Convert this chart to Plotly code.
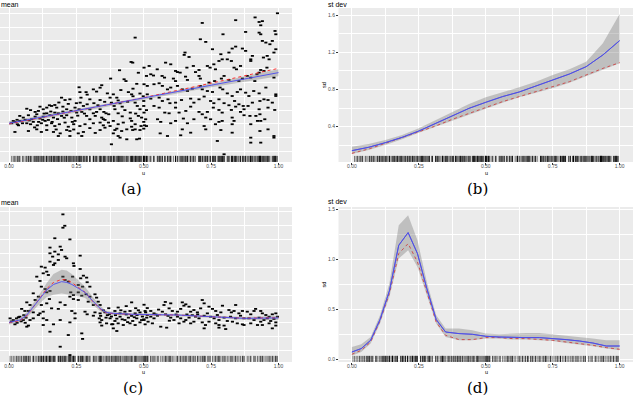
import plotly.graph_objects as go

# ---------------- data ----------------
# panel (a): scatter of mean vs u
a_pts = [
(.468,9.24),(.453,7.48),(.459,7.43),(.41,6.88),(.48,6.7),(.51,6.47),(.377,6.28),(.427,6.23),(.434,6.1),(.474,5.9),
(.344,5.8),(.338,5.62),(.313,5.5),(.325,5.34),(.286,5.3),(.29,5.12),(.263,5.3),(.267,4.9),(.365,5.21),(.387,5.14),
(.4,4.9),(.405,4.7),(.443,5.3),(.455,5.14),(.46,5.0),(.486,5.2),(.498,5.0),(.5,4.66),(.195,4.9),(.208,4.73),
(.226,4.78),(.375,4.9),(.38,4.54),(.338,4.73),(.3,4.78),(.315,4.5),(.29,4.42),(.264,4.54),(.276,4.3),(.412,4.49),
(.42,4.25),(.468,4.54),(.476,4.3),(.486,4.06),(.5,4.3),(.51,4.0),(.158,4.3),(.17,4.37),(.177,4.18),(.127,4.06),
(.14,4.18),(.15,4.35),(.115,4.25),(.109,3.94),(.066,4.1),(.08,4.0),(.097,3.87),(.103,3.7),(.2,4.25),(.214,4.06),
(.245,4.18),(.26,4.06),(.251,3.82),(.27,3.87),(.338,4.06),(.352,3.87),(.36,3.77),(.313,3.77),(.325,3.87),(.32,3.58),
(.393,4.06),(.405,3.77),(.43,4.0),(.45,3.82),(.17,3.82),(.183,3.77),(.195,3.58),(.14,3.77),(.152,3.63),(.165,3.46),
(.04,3.58),(.053,3.46),(.072,3.63),(.084,3.34),(.097,3.53),(.115,3.39),(.127,3.53),(.134,3.22),(.146,3.29),(.214,3.63),
(.233,3.46),(.245,3.22),(.288,3.58),(.3,3.34),(.344,3.46),(.356,3.29),(.369,3.1),(.387,3.22),(.405,2.98),(.424,3.1),
(.455,3.22),(.468,2.98),(.48,3.58),(.492,3.46),(.5,3.15),(.51,2.85),(.01,3.05),(.022,3.15),(.031,2.98),(.016,3.22),
(.04,3.22),(.05,3.05),(.066,3.05),(.08,2.98),(.09,3.15),(.105,2.9),(.12,3.05),(.14,2.9),(.158,3.05),(.17,2.85),
(.187,2.98),(.208,3.1),(.22,2.8),(.24,2.98),(.263,2.85),(.282,2.98),(.313,3.05),(.338,3.1),(.35,2.9),(.375,2.85),
(.393,2.56),(.338,2.56),(.356,2.73),(.4,2.66),(.418,2.49),(.437,2.61),(.455,2.8),(.468,2.61),(.486,2.56),(.5,2.66),
(.022,2.42),(.072,2.49),(.103,2.61),(.12,2.42),(.14,2.56),(.165,2.42),(.19,2.32),(.214,2.56),(.226,2.49),(.257,2.32),
(.183,2.13),(.226,2.13),(.276,2.42),(.27,2.13),(.387,2.32),(.405,2.13),(.459,2.56),(.474,1.89),(.412,2.01),(.437,1.89),
(.38,1.53),(.484,1.94),(.03,3.3),(.06,3.3),(.11,3.15),(.13,3.75),(.155,3.9),(.18,3.35),(.2,3.9),(.23,3.95),
(.25,4.5),(.28,3.75),(.3,4.05),(.33,4.35),(.35,3.35),(.37,3.7),(.39,4.3),(.42,3.55),(.44,4.6),(.45,3.4),
(.47,3.75),(.49,2.85),(.26,5.65),(.22,4.45),(.185,4.55),(.3,2.7),(.32,2.35),(.24,2.6),(.355,4.6),(.46,5.55),
(.415,5.45),(.035,2.9),(.075,3.25),(.095,2.75),(.125,3.3),(.16,3.15),(.175,2.6),(.205,3.45),(.235,3.15),(.255,3.6),
(.996,11.0),(.913,10.7),(.928,10.37),(.94,10.43),(.934,10.13),(.841,10.5),(.717,10.3),(.878,9.65),(.928,9.6),(.934,9.48),
(.987,9.72),(.99,9.48),(.794,9.48),(.71,9.12),(.73,8.93),(.94,9.0),(.953,8.88),(.977,9.0),(.968,8.76),(.841,8.59),
(.653,8.16),(.65,7.99),(.755,8.4),(.828,8.45),(.866,8.45),(.878,8.28),(.99,8.4),(.983,8.16),(.786,8.04),(.816,8.16),
(.668,7.84),(.903,7.92),(.897,7.67),(.958,7.92),(.944,7.8),(.965,7.67),(.501,7.07),(.52,7.19),(.55,6.95),(.581,7.43),
(.6,7.31),(.618,6.83),(.625,6.75),(.635,6.71),(.66,7.07),(.684,7.19),(.692,6.75),(.705,6.9),(.736,7.19),(.746,7.07),
(.76,7.31),(.766,6.95),(.779,7.55),(.791,7.67),(.81,7.67),(.825,7.55),(.835,7.07),(.844,6.95),(.859,7.19),(.897,7.55),
(.928,6.71),(.934,6.9),(.946,6.83),(.957,7.07),(.526,6.59),(.536,6.5),(.568,6.47),(.577,6.35),(.61,6.28),(.618,6.1),
(.655,6.42),(.662,6.18),(.705,6.47),(.71,6.28),(.742,5.99),(.763,6.1),(.788,6.28),(.798,6.47),(.816,6.18),(.853,6.1),
(.866,6.28),(.884,6.47),(.897,6.35),(.912,6.1),(.92,6.59),(.983,6.35),(.501,5.87),(.513,5.75),(.538,5.87),(.557,5.94),
(.569,5.75),(.588,5.5),(.6,5.63),(.625,5.75),(.643,5.5),(.662,5.38),(.68,5.55),(.71,5.75),(.717,5.5),(.736,5.38),
(.755,5.31),(.783,5.63),(.793,5.5),(.81,5.21),(.828,5.02),(.847,5.31),(.859,5.5),(.878,5.26),(.89,5.02),(.908,5.38),
(.928,5.21),(.953,5.63),(.99,5.14),(.99,5.02),(.513,5.14),(.526,4.83),(.557,4.9),(.569,4.66),(.59,4.78),(.597,4.5),
(.618,4.54),(.64,4.73),(.674,4.83),(.686,4.54),(.705,4.78),(.724,4.98),(.748,4.66),(.76,4.5),(.779,4.78),(.798,4.5),
(.816,4.35),(.837,4.66),(.853,4.42),(.869,4.3),(.887,4.3),(.903,4.54),(.931,4.66),(.946,4.78),(.961,4.73),(.977,4.54),
(.538,4.3),(.557,4.18),(.578,3.82),(.594,3.77),(.618,4.18),(.631,3.82),(.656,3.94),(.674,4.25),(.705,3.87),(.717,3.7),
(.736,3.87),(.758,4.18),(.779,4.01),(.791,3.82),(.825,4.01),(.841,4.25),(.859,3.87),(.872,4.06),(.928,4.06),(.931,3.7),
(.961,4.18),(.986,4.01),(.501,3.82),(.507,3.34),(.551,3.34),(.563,3.15),(.6,3.05),(.618,3.22),(.647,3.39),(.662,3.05),
(.686,3.34),(.73,3.46),(.748,3.34),(.779,3.15),(.791,3.22),(.828,3.46),(.835,3.22),(.872,3.63),(.894,3.58),(.916,3.58),
(.922,3.22),(.949,3.34),(.503,2.9),(.643,2.61),(.674,2.37),(.724,2.85),(.73,2.61),(.766,2.98),(.786,2.56),(.828,2.98),
(.897,2.98),(.934,3.22),(.561,2.32),(.588,2.13),(.637,2.18),(.828,2.37),(.897,2.01),(.931,2.49),(.961,2.61),(.983,2.13),
(.773,1.77),(.897,1.65),(.934,1.65),(.983,2.01),(.798,0.81),
]
a_u = [p[0] for p in a_pts]
a_mean = [p[1] for p in a_pts]

# panel (a) fitted curves
a_fit_u = [0.0, 0.25, 0.5, 0.75, 1.0]
a_fit = [3.05, 3.95, 4.85, 5.80, 6.71]
a_true = [3.00, 3.95, 4.90, 5.95, 7.02]
a_hi = [3.20, 4.05, 4.95, 5.95, 6.95]
a_lo = [2.90, 3.85, 4.75, 5.65, 6.45]

# panel (b): st dev curves
b_u = [0, .0625, .125, .1875, .25, .3125, .375, .4375, .5, .5625, .625, .6875, .75, .8125, .875, .9375, 1.0]
b_fit = [0.142, 0.178, 0.228, 0.285, 0.353, 0.436, 0.515, 0.597, 0.662, 0.723, 0.773, 0.837, 0.902, 0.966, 1.045, 1.171, 1.325]
b_true = [0.113, 0.160, 0.221, 0.282, 0.346, 0.407, 0.479, 0.543, 0.608, 0.669, 0.723, 0.776, 0.823, 0.884, 0.956, 1.027, 1.088]
b_hi = [0.185, 0.214, 0.257, 0.310, 0.382, 0.472, 0.561, 0.644, 0.715, 0.766, 0.823, 0.884, 0.956, 1.017, 1.099, 1.296, 1.611]
b_lo = [0.106, 0.149, 0.203, 0.264, 0.335, 0.400, 0.465, 0.533, 0.597, 0.658, 0.715, 0.766, 0.812, 0.873, 0.945, 1.017, 1.081]

# panel (c): scatter of mean vs u
c_pts = [
(.2,10.8),(.207,9.98),(.2,9.84),(.226,9.0),(.17,9.08),(.152,8.41),(.19,8.48),(.195,8.24),(.17,8.12),(.183,7.92),
(.152,8.0),(.162,7.76),(.208,7.76),(.214,7.64),(.264,7.83),(.183,7.52),(.17,7.28),(.152,7.4),(.165,7.16),(.239,7.28),
(.241,7.09),(.12,7.04),(.134,6.97),(.127,6.56),(.14,6.68),(.146,6.44),(.264,6.87),(.276,6.39),(.266,6.2),(.288,6.25),
(.236,6.32),(.103,6.32),(.115,6.01),(.2,6.32),(.208,6.08),(.22,5.96),(.257,5.72),(.273,5.6),(.29,5.92),(.3,5.6),
(.12,5.6),(.134,5.43),(.14,5.19),(.152,5.29),(.09,5.12),(.229,5.19),(.239,5.0),(.257,5.19),(.27,4.95),(.286,5.05),
(.3,4.88),(.319,5.05),(.325,4.81),(.109,4.88),(.097,4.64),(.15,4.71),(.226,4.88),(.239,4.71),(.066,4.47),(.078,4.28),
(.338,4.28),(.331,4.52),(.12,4.28),(.14,4.4),(.19,4.47),(.208,4.28),(.257,4.64),(.294,4.52),(.313,4.28),(.158,4.04),
(.183,4.0),(.047,4.0),(.059,3.85),(.09,3.75),(.072,3.85),(.115,3.68),(.127,3.8),(.233,3.85),(.245,3.68),(.282,3.8),
(.29,3.61),(.319,3.75),(.338,3.68),(.356,3.75),(.372,3.61),(.393,3.85),(.412,3.68),(.43,3.8),(.455,4.47),(.449,3.85),
(.468,3.68),(.486,3.75),(.505,3.85),(.004,3.32),(.016,3.2),(.028,3.32),(.04,3.44),(.053,3.2),(.063,3.37),(.078,3.2),
(.09,3.32),(.109,3.56),(.127,3.32),(.313,3.51),(.335,3.32),(.344,3.2),(.36,3.37),(.375,3.32),(.393,3.13),(.412,3.44),
(.43,3.2),(.443,3.37),(.459,3.13),(.474,3.32),(.492,3.2),(.511,3.37),(.362,2.96),(.381,2.89),(.405,2.96),(.424,2.84),
(.449,2.96),(.468,2.84),(.486,3.03),(.505,2.89),(.022,2.89),(.072,2.8),(.127,2.84),(.14,3.2),(.19,3.2),(.338,3.03),
(.226,3.03),(.245,3.32),(.344,2.8),(.387,2.6),(.4,2.41),(.066,2.72),(.152,2.36),(.165,2.89),(.273,1.84),(.22,2.12),
(.19,1.28),(.226,0.68),(.27,2.24),(.34,3.5),(.35,3.9),(.365,3.55),(.38,3.45),(.395,3.55),(.4,3.3),(.415,3.9),
(.42,3.25),(.435,3.6),(.44,3.05),(.455,3.5),(.465,3.4),(.475,3.55),(.48,3.9),(.495,3.45),(.5,3.25),(.37,4.05),
(.405,4.1),(.435,4.2),(.47,4.05),(.385,2.9),(.01,3.1),(.03,3.0),(.035,3.4),(.045,3.1),(.055,3.55),(.06,3.0),
(.501,4.3),(.513,4.06),(.526,3.85),(.538,3.68),(.507,3.75),(.513,3.56),(.526,3.44),(.538,3.32),(.551,3.51),(.501,3.2),
(.516,3.08),(.532,2.96),(.563,2.72),(.585,2.65),(.575,4.28),(.594,4.04),(.606,3.85),(.569,3.8),(.581,3.61),(.6,3.37),
(.612,3.2),(.625,3.8),(.637,4.0),(.649,4.23),(.643,4.47),(.656,4.33),(.668,4.16),(.674,3.8),(.625,3.44),(.637,3.32),
(.656,3.2),(.668,3.37),(.631,2.96),(.649,3.08),(.674,2.96),(.686,3.92),(.699,3.75),(.711,4.04),(.717,4.64),(.724,4.4),
(.692,3.44),(.705,3.32),(.724,3.51),(.686,3.08),(.717,3.03),(.729,2.84),(.724,2.6),(.742,4.16),(.755,4.0),(.767,3.85),
(.736,3.68),(.748,3.44),(.761,3.32),(.773,3.56),(.786,3.75),(.779,3.2),(.798,3.37),(.81,3.13),(.742,3.08),(.767,2.96),
(.779,2.84),(.798,2.8),(.804,2.55),(.792,4.23),(.816,3.92),(.825,3.75),(.841,4.28),(.835,3.85),(.853,3.68),(.866,3.85),
(.822,3.44),(.841,3.32),(.859,3.51),(.872,3.32),(.829,3.08),(.847,2.96),(.866,2.89),(.884,3.8),(.897,3.61),(.909,3.85),
(.89,3.32),(.909,3.2),(.928,3.37),(.915,4.0),(.934,3.85),(.897,2.96),(.922,2.84),(.934,3.08),(.94,3.68),(.953,3.56),
(.965,3.44),(.977,3.61),(.99,3.68),(.946,3.2),(.958,3.32),(.971,3.13),(.983,3.27),(.996,3.44),(.94,2.84),(.965,2.96),
(.99,3.03),(.977,2.6),(.99,2.8),(.779,2.65),(.872,2.84),(.545,3.6),(.555,3.95),(.59,3.5),(.595,3.15),(.62,3.6),
(.66,3.6),(.68,3.55),(.7,3.6),(.58,4.5),(.6,4.4),
]
c_u = [p[0] for p in c_pts]
c_mean = [p[1] for p in c_pts]

# panel (c) fitted curves
c_fit_u = [0, .04, .066, .09, .115, .14, .165, .195, .214, .233, .257, .282, .307, .338, .36, .387, .46, .506, .625, .75, .872, 1.0]
c_fit = [3.03, 3.2, 3.56, 4.16, 4.76, 5.36, 5.76, 5.96, 5.91, 5.76, 5.48, 5.19, 4.64, 4.04, 3.75, 3.68, 3.61, 3.61, 3.56, 3.44, 3.32, 3.35]
c_true = [3.0, 3.15, 3.5, 4.15, 4.8, 5.45, 5.9, 6.12, 6.08, 5.9, 5.55, 5.2, 4.62, 4.0, 3.72, 3.66, 3.6, 3.6, 3.56, 3.44, 3.33, 3.37]
c_hi = [3.18, 3.35, 3.76, 4.41, 5.11, 5.86, 6.51, 6.81, 6.76, 6.51, 6.03, 5.59, 4.94, 4.24, 3.87, 3.78, 3.69, 3.69, 3.64, 3.52, 3.42, 3.5]
c_lo = [2.88, 3.05, 3.36, 3.91, 4.41, 4.86, 5.01, 5.11, 5.06, 5.01, 4.93, 4.79, 4.34, 3.84, 3.63, 3.58, 3.53, 3.53, 3.48, 3.36, 3.22, 3.2]

# panel (d): st dev curves
d_u = [0, .035, .07, .105, .14, .175, .21, .245, .28, .315, .35, .4, .45, .5, .55, .6, .65, .7, .75, .8, .85, .9, .95, 1.0]
d_fit = [0.073, 0.107, 0.19, 0.397, 0.683, 1.14, 1.267, 1.057, 0.707, 0.397, 0.273, 0.257, 0.25, 0.23, 0.223, 0.217, 0.217, 0.217, 0.21, 0.197, 0.183, 0.163, 0.133, 0.133]
d_true = [0.05, 0.09, 0.173, 0.383, 0.657, 1.057, 1.157, 0.973, 0.673, 0.373, 0.24, 0.197, 0.197, 0.217, 0.217, 0.207, 0.207, 0.2, 0.19, 0.173, 0.157, 0.14, 0.117, 0.1]
d_hi = [0.123, 0.15, 0.223, 0.44, 0.757, 1.34, 1.44, 1.19, 0.773, 0.44, 0.307, 0.307, 0.29, 0.257, 0.25, 0.257, 0.263, 0.263, 0.25, 0.24, 0.223, 0.207, 0.19, 0.19]
d_lo = [0.035, 0.073, 0.157, 0.357, 0.623, 1.007, 1.09, 0.923, 0.64, 0.357, 0.223, 0.19, 0.19, 0.207, 0.207, 0.197, 0.197, 0.19, 0.183, 0.163, 0.15, 0.13, 0.107, 0.09]

x_ticks = [0, 0.25, 0.5, 0.75, 1.0]
x_ticktext = ["0.00", "0.25", "0.50", "0.75", "1.00"]
b_ticks = [0.4, 0.8, 1.2, 1.6]
b_ticktext = ["0.4", "0.8", "1.2", "1.6"]
d_ticks = [0.0, 0.5, 1.0, 1.5]
d_ticktext = ["0.0", "0.5", "1.0", "1.5"]
captions = ["(a)", "(b)", "(c)", "(d)"]

# ---------------- figure ----------------
W, H = 639, 413
BLUE = "#4a4af0"
RED = "#ff2020"
BAND = "rgba(120,120,120,0.38)"
fig = go.Figure()


def px_x(p):
    return p / W


def px_y(p):
    return 1 - p / H


def add_band(u, lo, hi, xa, ya):
    fig.add_trace(go.Scatter(x=u, y=lo, mode="lines", line=dict(width=0), xaxis=xa, yaxis=ya,
                             hoverinfo="skip", showlegend=False))
    fig.add_trace(go.Scatter(x=u, y=hi, mode="lines", line=dict(width=0), fill="tonexty",
                             fillcolor=BAND, xaxis=xa, yaxis=ya, hoverinfo="skip", showlegend=False))


def add_lines(u, true, fit, xa, ya):
    fig.add_trace(go.Scatter(x=u, y=true, mode="lines", line=dict(color=RED, width=0.9, dash="dot"),
                             xaxis=xa, yaxis=ya, showlegend=False))
    fig.add_trace(go.Scatter(x=u, y=fit, mode="lines", line=dict(color=BLUE, width=0.9),
                             xaxis=xa, yaxis=ya, showlegend=False))


def add_rug(u, xa, ya):
    fig.add_trace(go.Scatter(x=u, y=[0.02] * len(u), mode="markers", xaxis=xa, yaxis=ya,
                             marker=dict(symbol="line-ns", size=4.3, line=dict(width=0.6, color="rgba(0,0,0,0.85)")),
                             hoverinfo="skip", showlegend=False))


def add_points(u, v, xa, ya):
    fig.add_trace(go.Scatter(x=u, y=v, mode="markers", xaxis=xa, yaxis=ya,
                             marker=dict(symbol="line-ew", size=2.2, line=dict(width=1.8, color="black")),
                             showlegend=False))


# (a)
add_points(a_u, a_mean, "x", "y")
add_band(a_fit_u, a_lo, a_hi, "x", "y")
add_lines(a_fit_u, a_true, a_fit, "x", "y")
add_rug(a_u, "x", "y5")
# (b)
add_lines(b_u, b_true, b_fit, "x2", "y2")
add_band(b_u, b_lo, b_hi, "x2", "y2")
fig.add_trace(go.Scatter(x=b_u, y=b_fit, mode="lines", line=dict(color=BLUE, width=0.9),
                         xaxis="x2", yaxis="y2", showlegend=False))
add_rug(a_u, "x2", "y6")
# (c)
add_points(c_u, c_mean, "x3", "y3")
add_band(c_fit_u, c_lo, c_hi, "x3", "y3")
add_lines(c_fit_u, c_true, c_fit, "x3", "y3")
add_rug(c_u, "x3", "y7")
# (d)
add_lines(d_u, d_true, d_fit, "x4", "y4")
add_band(d_u, d_lo, d_hi, "x4", "y4")
fig.add_trace(go.Scatter(x=d_u, y=d_fit, mode="lines", line=dict(color=BLUE, width=0.9),
                         xaxis="x4", yaxis="y4", showlegend=False))
add_rug(c_u, "x4", "y8")

TICKFONT = dict(family="Liberation Sans", size=5, color="#4d4d4d")
TITLEFONT = dict(family="Liberation Sans", size=5.5, color="black")

left_dom = [px_x(0), px_x(292)]
right_dom = [px_x(338.5), px_x(633)]
top_dom = [px_y(162), px_y(8)]
bot_dom = [px_y(362), px_y(207)]


def xaxis(dom, rng, anchor):
    return dict(domain=dom, range=rng, anchor=anchor, tickvals=x_ticks, ticktext=x_ticktext,
                showgrid=True, gridcolor="white", gridwidth=1, zeroline=False, showline=False,
                ticks="outside", ticklen=1.5, tickwidth=0.5, tickcolor="#333333", tickfont=TICKFONT,
                ticklabelstandoff=-3,
                minor=dict(tickvals=[0.125, 0.375, 0.625, 0.875], showgrid=True, gridcolor="white", gridwidth=0.5, ticks=""),
                fixedrange=True)


fig.update_layout(
    width=W, height=H, margin=dict(l=0, r=0, t=0, b=0),
    paper_bgcolor="white", plot_bgcolor="#EBEBEB", showlegend=False,
    xaxis=xaxis(left_dom, [-0.0334, 1.05], "y"),
    xaxis2=xaxis(right_dom, [-0.05, 1.05], "y2"),
    xaxis3=xaxis(left_dom, [-0.0334, 1.05], "y3"),
    xaxis4=xaxis(right_dom, [-0.05, 1.05], "y4"),
    yaxis=dict(domain=top_dom, range=[0.25, 11.38], anchor="x", showticklabels=False,
               tickvals=[1, 3, 5, 7, 9, 11], showgrid=True, gridcolor="white", gridwidth=1, zeroline=False,
               minor=dict(tickvals=[2, 4, 6, 8, 10], showgrid=True, gridcolor="white", gridwidth=0.5)),
    yaxis2=dict(domain=top_dom, range=[0.02, 1.676], anchor="x2", tickvals=b_ticks, ticktext=b_ticktext,
                showgrid=True, gridcolor="white", gridwidth=1, zeroline=False, tickfont=TICKFONT,
                ticks="outside", ticklen=1.5, tickwidth=0.5, tickcolor="#333333",
                minor=dict(tickvals=[0.2, 0.6, 1.0, 1.4], showgrid=True, gridcolor="white", gridwidth=0.5, ticks=""),
                title=dict(text="sd", font=TITLEFONT, standoff=1)),
    yaxis3=dict(domain=bot_dom, range=[0.18, 11.33], anchor="x3", showticklabels=False,
                tickvals=[1, 3, 5, 7, 9, 11], showgrid=True, gridcolor="white", gridwidth=1, zeroline=False,
                minor=dict(tickvals=[2, 4, 6, 8, 10], showgrid=True, gridcolor="white", gridwidth=0.5)),
    yaxis4=dict(domain=bot_dom, range=[-0.027, 1.523], anchor="x4", tickvals=d_ticks, ticktext=d_ticktext,
                showgrid=True, gridcolor="white", gridwidth=1, zeroline=False, tickfont=TICKFONT,
                ticks="outside", ticklen=1.5, tickwidth=0.5, tickcolor="#333333",
                minor=dict(tickvals=[0.25, 0.75, 1.25], showgrid=True, gridcolor="white", gridwidth=0.5, ticks=""),
                title=dict(text="sd", font=TITLEFONT, standoff=1)),
    yaxis5=dict(overlaying="y", anchor="x", range=[0, 1], visible=False),
    yaxis6=dict(overlaying="y2", anchor="x2", range=[0, 1], visible=False),
    yaxis7=dict(overlaying="y3", anchor="x3", range=[0, 1], visible=False),
    yaxis8=dict(overlaying="y4", anchor="x4", range=[0, 1], visible=False),
)

# panel titles
TF = dict(family="Liberation Sans", size=7, color="black")
for txt, xx, yy in [("mean", 0, 0.3), ("st dev", 327, 0.3), ("mean", 0, 198), ("st dev", 327, 197.3)]:
    fig.add_annotation(text=txt, x=px_x(xx), y=px_y(yy), xref="paper", yref="paper",
                       xanchor="left", yanchor="top", showarrow=False, font=TF, borderpad=0)

# x-axis titles "u"
for xx, yy in [(143.5, 172.5), (486, 172.5), (143.5, 371.5), (486, 371.5)]:
    fig.add_annotation(text="u", x=px_x(xx), y=px_y(yy), xref="paper", yref="paper",
                       xanchor="center", yanchor="middle", showarrow=False, font=TITLEFONT, borderpad=0)

# captions
CF = dict(family="DejaVu Serif", size=15, color="black")
cap_pos = [(131, 189), (477, 189), (133, 388), (477, 388)]
for txt, (cx, cy) in zip(captions, cap_pos):
    fig.add_annotation(text=txt, x=px_x(cx), y=px_y(cy), xref="paper", yref="paper",
                       xanchor="center", yanchor="middle", showarrow=False, font=CF)

fig.write_html("out.html")
